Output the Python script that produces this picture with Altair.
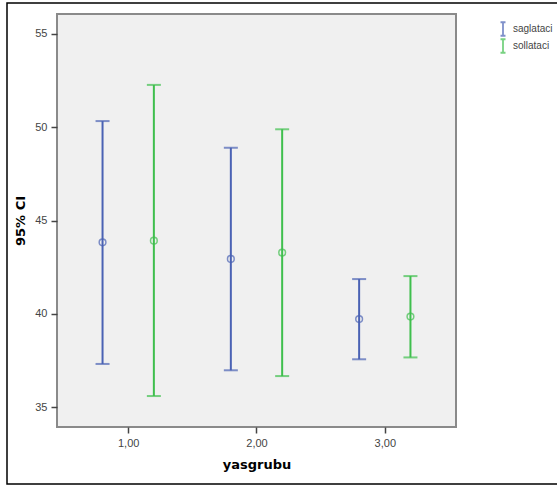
import altair as alt
import pandas as pd

groups = [1, 1, 2, 2, 3, 3]
series = ["saglataci", "sollataci"] * 3
means = [43.83, 43.92, 42.94, 43.28, 39.72, 39.85]
lowers = [37.31, 35.59, 36.97, 36.66, 37.56, 37.66]
uppers = [50.33, 52.27, 48.90, 49.89, 41.86, 42.02]

x_ticks = [1, 2, 3]
y_ticks = [35, 40, 45, 50, 55]
series_names = ["saglataci", "sollataci"]
series_colors = ["#4a62b4", "#3fbf4d"]

df = pd.DataFrame({"group": groups, "series": series, "mean": means,
                   "lower": lowers, "upper": uppers})

FONT = "Liberation Sans"

xscale = alt.Scale(domain=[0.445, 3.555], nice=False, zero=False)
yscale = alt.Scale(domain=[33.93, 56.07], nice=False, zero=False)
color = alt.Color("series:N", scale=alt.Scale(domain=series_names, range=series_colors),
                  legend=alt.Legend(title=None, orient="none", legendX=440, legendY=9,
                                    symbolType="M-0.5,-1.35H0.5M0,-1.35V1.35M-0.5,1.35H0.5",
                                    symbolSize=100, symbolStrokeWidth=1.8,
                                    symbolFillColor="transparent",
                                    labelFont=FONT, labelFontSize=10, labelColor="#444",
                                    rowPadding=-6, labelOffset=4))

base = alt.Chart(df).transform_calculate(
    xpos="datum.group + (datum.series == 'saglataci' ? -0.2 : 0.2)"
)

xenc = alt.X("xpos:Q", scale=xscale,
             axis=alt.Axis(values=x_ticks, title="yasgrubu",
                           labelExpr="replace(format(datum.value, '.2f'), '.', ',')",
                           grid=False, domain=False, tickSize=6, tickColor="#444", tickWidth=1.5,
                           labelFont=FONT, labelFontSize=11, labelColor="#444", labelPadding=4,
                           titleFont="DejaVu Sans", titleFontSize=13, titleFontWeight="bold",
                           titleColor="#000", titlePadding=10))
yenc = alt.Y("upper:Q", scale=yscale,
             axis=alt.Axis(values=y_ticks, title="95% CI", grid=False, domain=False,
                           tickSize=6, tickColor="#444", tickWidth=1.5,
                           labelFont=FONT, labelFontSize=11, labelColor="#444", labelPadding=4,
                           titleFont="DejaVu Sans", titleFontSize=13, titleFontWeight="bold",
                           titleColor="#000", titlePadding=7))

rules = base.mark_rule(strokeWidth=2).encode(x=xenc, y=yenc, y2="lower:Q", color=color)
caps_top = base.mark_tick(orient="horizontal", size=14, thickness=2).encode(
    x=alt.X("xpos:Q", scale=xscale), y=alt.Y("upper:Q", scale=yscale), color=color)
caps_bot = base.mark_tick(orient="horizontal", size=14, thickness=2).encode(
    x=alt.X("xpos:Q", scale=xscale), y=alt.Y("lower:Q", scale=yscale), color=color)
points = base.mark_point(shape="circle", size=45, strokeWidth=1.5, filled=False).encode(
    x=alt.X("xpos:Q", scale=xscale), y=alt.Y("mean:Q", scale=yscale), color=color)

frame = alt.Chart(pd.DataFrame({"a": [0]})).mark_rect(
    fill=None, stroke="#000", strokeWidth=1.5).encode(
    x=alt.value(-50), x2=alt.value(520), y=alt.value(-11), y2=alt.value(470))

chart = alt.layer(rules, caps_top, caps_bot, points, frame).properties(
    width=399, height=413,
    padding={"left": 57, "top": 14, "right": 101, "bottom": 59},
    autosize=alt.AutoSizeParams(type="none"),
    background="white",
).configure_view(fill="#f0f0f0", stroke="#8a8a8a", strokeWidth=2)

chart.save("out.html", embed_options={"renderer": "svg", "actions": False})
